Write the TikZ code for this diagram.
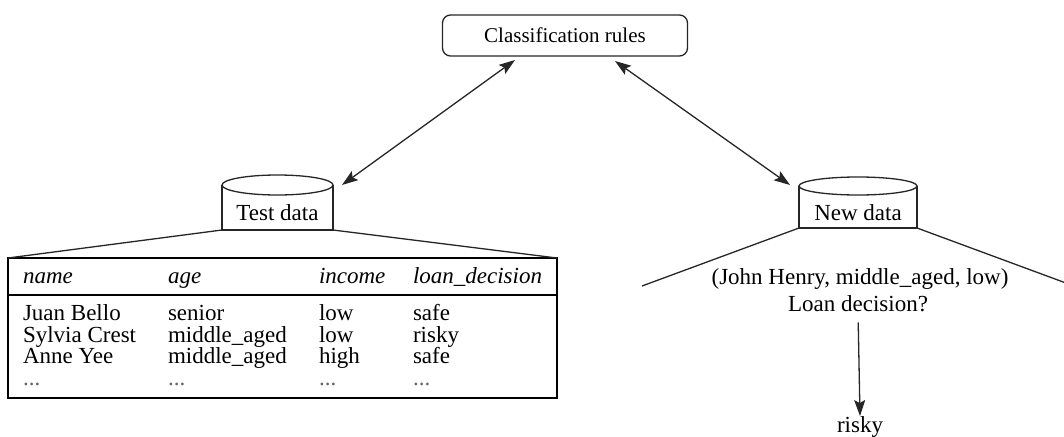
\documentclass[tikz,border=0pt]{standalone}
\usepackage{fontspec}
\setmainfont{Liberation Serif}
\usetikzlibrary{arrows.meta}
\begin{document}
\begin{tikzpicture}[x=1pt,y=-1pt,
  every node/.style={inner sep=0pt, outer sep=0pt},
  txt/.style={font=\fontsize{23}{26}\selectfont},
  lbl/.style={txt, anchor=base},
  cell/.style={txt, anchor=base west},
  hcell/.style={cell, font=\fontsize{23}{26}\selectfont\itshape},
  ln/.style={line width=1.3pt, draw=black!85},
  tip/.style={Stealth[length=16pt,width=11pt,inset=3pt]},
  arr/.style={ln, {Stealth[length=16pt,width=11pt,inset=3pt]}-{Stealth[length=16pt,width=11pt,inset=3pt]}},
  dbody/.style={minimum width=#1, minimum height=44pt},
]
\useasboundingbox (0,0) rectangle (1064,436);
\clip (0,0) rectangle (1064,436);

% Classification rules
\node[draw, ln, rounded corners=8pt, minimum width=245pt, minimum height=41pt,
      font=\fontsize{21}{24}\selectfont] (rules) at (565,35.5) {Classification rules};

% Test data cylinder
\node[minimum width=111pt, minimum height=45pt] (test) at (277.5,207.5) {};
\draw[ln] (test.north west) -- (test.south west) -- (test.south east) -- (test.north east);
\draw[ln, fill=white] (test.north) ellipse [x radius=55.5pt, y radius=10pt];
\node[lbl] (testlbl) at (277.5,220) {Test data};

% New data cylinder
\node[minimum width=118pt, minimum height=42pt] (new) at (858,207) {};
\draw[ln] (new.north west) -- (new.south west) -- (new.south east) -- (new.north east);
\draw[ln, fill=white] (new.north) ellipse [x radius=59pt, y radius=9pt];
\node[lbl] (newlbl) at (858,220) {New data};

% arrows
\coordinate (a1) at (515,60);
\coordinate (a2) at (342,185);
\coordinate (b1) at (615,61);
\coordinate (b2) at (790,185);
\draw[arr] (a1) -- (a2);
\draw[arr] (b1) -- (b2);

% Table
\node[draw, line width=1.6pt, minimum width=549pt, minimum height=140pt] (table) at (282.5,328) {};
\draw[ln] (test.south west) -- (table.north west);
\draw[ln] (test.south east) -- (table.north east);
\draw[line width=1.6pt] (8,295) -- (557,295);

\node[hcell] (h1) at (23,283) {name};
\node[hcell] (h2) at (168,283) {age};
\node[hcell] (h3) at (319,283) {income};
\node[hcell] (h4) at (413,283) {loan\_decision};

\node[cell] (r11) at (23,320) {Juan Bello};
\node[cell] (r12) at (168,320) {senior};
\node[cell] (r13) at (319,320) {low};
\node[cell] (r14) at (413,320) {safe};

\node[cell] (r21) at (23,342) {Sylvia Crest};
\node[cell] (r22) at (168,342) {middle\_aged};
\node[cell] (r23) at (319,342) {low};
\node[cell] (r24) at (413,342) {risky};

\node[cell] (r31) at (23,363) {Anne Yee};
\node[cell] (r32) at (168,363) {middle\_aged};
\node[cell] (r33) at (319,363) {high};
\node[cell] (r34) at (413,363) {safe};

\node[cell, text=black!60] (r41) at (23,385) {...};
\node[cell, text=black!60] (r42) at (168,385) {...};
\node[cell, text=black!60] (r43) at (319,385) {...};
\node[cell, text=black!60] (r44) at (413,385) {...};

% New data cone
\coordinate (cl) at (642,286);
\coordinate (cr) at (1074,286);
\draw[ln] (new.south west) -- (cl);
\draw[ln] (new.south east) -- (cr);

\node[lbl] (tuple) at (860,284) {(John Henry, middle\_aged, low)};
\node[lbl] (q) at (858,311) {Loan decision?};
\node[lbl] (risky) at (860,432) {risky};
\draw[ln, -{Stealth[length=16pt,width=11pt,inset=3pt]}, shorten <=11pt] (q.south) -- (risky.north);
\end{tikzpicture}
\end{document}
